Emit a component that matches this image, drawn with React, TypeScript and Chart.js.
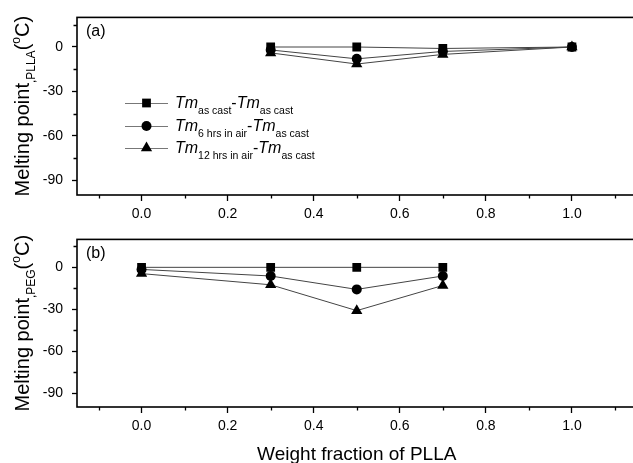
import React, { useEffect, useRef } from "react";
import { Chart, registerables } from "chart.js";

Chart.register(...registerables);

// ---- Data ----
const xPLLA = [0.3, 0.5, 0.7, 1.0];
const pllaAsCast = [0, 0, -1, 0];
const pllaSixHrs = [-2, -8, -3, 0];
const pllaTwelveHrs = [-4, -11.5, -5, 0];

const xPEG = [0.0, 0.3, 0.5, 0.7];
const pegAsCast = [0, 0, 0, 0];
const pegSixHrs = [-1.5, -6.2, -15.8, -6.2];
const pegTwelveHrs = [-4.5, -12.5, -31, -13];

const xMajorTicks = [0.0, 0.2, 0.4, 0.6, 0.8, 1.0];
const xMinorTicks = [-0.1, 0.1, 0.3, 0.5, 0.7, 0.9, 1.1];
const yMajorTicks = [-90, -60, -30, 0];
const yMinorTicks = [-75, -45, -15, 15];

const seriesNames = [
  { main: "Tm", sub1: "as cast", sub2: "as cast" },
  { main: "Tm", sub1: "6 hrs in air", sub2: "as cast" },
  { main: "Tm", sub1: "12 hrs in air", sub2: "as cast" },
];
const pointStyles = ["rect", "circle", "triangle"];
const pointSizes = [6.2, 5, 6.5];

const FONT = "'Liberation Sans', Arial, sans-serif";

function makeDatasets(xs: number[], series: number[][]) {
  return series.map((vals, i) => ({
    label: seriesNames[i].main + seriesNames[i].sub1,
    data: xs.map((x, j) => ({ x, y: vals[j] })),
    borderColor: "#444",
    borderWidth: 1,
    backgroundColor: "#000",
    pointBackgroundColor: "#000",
    pointBorderColor: "#000",
    pointBorderWidth: 0,
    pointStyle: pointStyles[i],
    pointRadius: pointSizes[i],
    showLine: true,
    fill: false,
    tension: 0,
  }));
}

function framePlugin(panelLabel: string, yTitleSub: string, showLegend: boolean) {
  return {
    id: "frame_" + panelLabel,
    afterDraw(chart: any) {
      const ctx = chart.ctx;
      const a = chart.chartArea;
      const xs = chart.scales.x;
      const ys = chart.scales.y;
      ctx.save();
      // frame
      ctx.strokeStyle = "#000";
      ctx.lineWidth = 1.6;
      ctx.strokeRect(a.left, a.top, a.right - a.left, a.bottom - a.top);
      // minor ticks
      ctx.lineWidth = 1.3;
      ctx.beginPath();
      xMinorTicks.forEach((v) => {
        const px = Math.round(xs.getPixelForValue(v)) + 0.5;
        ctx.moveTo(px, a.bottom);
        ctx.lineTo(px, a.bottom + 3.5);
      });
      yMinorTicks.forEach((v) => {
        const py = Math.round(ys.getPixelForValue(v)) + 0.5;
        ctx.moveTo(a.left, py);
        ctx.lineTo(a.left - 3.5, py);
      });
      ctx.stroke();

      // panel label
      ctx.fillStyle = "#000";
      ctx.font = `16px ${FONT}`;
      ctx.textBaseline = "alphabetic";
      ctx.textAlign = "left";
      ctx.fillText(panelLabel, a.left + 9, a.top + 19);

      // y title (rotated, with subscript and superscript)
      const segs = [
        { t: "Melting point", size: 20, dy: 0 },
        { t: yTitleSub, size: 12, dy: 6 },
        { t: "(", size: 20, dy: 0 },
        { t: "o", size: 12, dy: -9 },
        { t: "C)", size: 20, dy: 0 },
      ];
      let total = 0;
      segs.forEach((s) => {
        ctx.font = `${s.size}px ${FONT}`;
        total += ctx.measureText(s.t).width;
      });
      const cy = (a.top + a.bottom) / 2;
      ctx.save();
      ctx.translate(29, cy);
      ctx.rotate(-Math.PI / 2);
      let cx = -total / 2;
      segs.forEach((s) => {
        ctx.font = `${s.size}px ${FONT}`;
        ctx.fillText(s.t, cx, s.dy);
        cx += ctx.measureText(s.t).width;
      });
      ctx.restore();

      // legend
      if (showLegend) {
        const rows = [103, 126, 148];
        const lineX0 = 125;
        const lineX1 = 168;
        const markX = 146.5;
        rows.forEach((ry, i) => {
          ctx.strokeStyle = "#777";
          ctx.lineWidth = 1.2;
          ctx.beginPath();
          ctx.moveTo(lineX0, ry + 0.5);
          ctx.lineTo(lineX1, ry + 0.5);
          ctx.stroke();
          ctx.fillStyle = "#000";
          const r = pointSizes[i];
          ctx.beginPath();
          if (pointStyles[i] === "rect") {
            const s = r * Math.SQRT1_2;
            ctx.rect(markX - s, ry - s, 2 * s, 2 * s);
          } else if (pointStyles[i] === "circle") {
            ctx.arc(markX, ry, r, 0, Math.PI * 2);
          } else {
            const w = (r * Math.sqrt(3)) / 2;
            ctx.moveTo(markX, ry - r);
            ctx.lineTo(markX + w, ry + r / 2);
            ctx.lineTo(markX - w, ry + r / 2);
            ctx.closePath();
          }
          ctx.fill();

          // text
          const base = ry + 5;
          let tx = 175;
          const n = seriesNames[i];
          const parts = [
            { t: n.main, font: `italic 16px ${FONT}`, dy: 0 },
            { t: n.sub1, font: `10.5px ${FONT}`, dy: 6 },
            { t: "-", font: `16px ${FONT}`, dy: 0 },
            { t: n.main, font: `italic 16px ${FONT}`, dy: 0 },
            { t: n.sub2, font: `10.5px ${FONT}`, dy: 6 },
          ];
          parts.forEach((p) => {
            ctx.font = p.font;
            ctx.fillText(p.t, tx, base + p.dy);
            tx += ctx.measureText(p.t).width;
          });
        });
      }
      ctx.restore();
    },
  };
}

function makeConfig(
  xs: number[],
  series: number[][],
  panelLabel: string,
  yTitleSub: string,
  showLegend: boolean,
  padTop: number,
  xAxisHeight: number,
  showXTitle: boolean
): any {
  return {
    type: "scatter",
    data: { datasets: makeDatasets(xs, series) },
    options: {
      responsive: false,
      animation: false,
      devicePixelRatio: 1,
      layout: { padding: { top: padTop, right: 2, left: 0, bottom: 0 } },
      plugins: {
        legend: { display: false },
        tooltip: { enabled: false },
      },
      scales: {
        x: {
          type: "linear",
          min: -0.15,
          max: 1.15,
          afterBuildTicks: (s: any) => {
            s.ticks = xMajorTicks.map((v) => ({ value: v }));
          },
          afterFit: (s: any) => {
            s.height = xAxisHeight;
          },
          ticks: {
            color: "#000",
            font: { family: FONT, size: 14 },
            padding: 5,
            maxRotation: 0,
            autoSkip: false,
            callback: (v: any) => Number(v).toFixed(1),
          },
          grid: {
            display: true,
            drawOnChartArea: false,
            drawTicks: true,
            tickLength: 6,
            tickColor: "#000",
            tickWidth: 1.3,
          },
          border: { display: false },
          title: {
            display: showXTitle,
            text: "Weight fraction of PLLA",
            color: "#000",
            font: { family: FONT, size: 19 },
            padding: { top: 0, bottom: 0 },
          },
        },
        y: {
          type: "linear",
          min: -100,
          max: 20,
          afterBuildTicks: (s: any) => {
            s.ticks = yMajorTicks.map((v) => ({ value: v }));
          },
          afterFit: (s: any) => {
            s.width = 77;
          },
          ticks: {
            color: "#000",
            font: { family: FONT, size: 14 },
            padding: 9,
            callback: (v: any) => String(v),
          },
          grid: {
            display: true,
            drawOnChartArea: false,
            drawTicks: true,
            tickLength: 5,
            tickColor: "#000",
            tickWidth: 1.3,
          },
          border: { display: false },
        },
      },
    },
    plugins: [framePlugin(panelLabel, yTitleSub, showLegend)],
  };
}

export default function App() {
  const refA = useRef<HTMLCanvasElement | null>(null);
  const refB = useRef<HTMLCanvasElement | null>(null);

  useEffect(() => {
    if (!refA.current || !refB.current) return;
    const chartA = new Chart(
      refA.current,
      makeConfig(
        xPLLA,
        [pllaAsCast, pllaSixHrs, pllaTwelveHrs],
        "(a)",
        ",PLLA",
        true,
        12,
        27,
        false
      )
    );
    const chartB = new Chart(
      refB.current,
      makeConfig(
        xPEG,
        [pegAsCast, pegSixHrs, pegTwelveHrs],
        "(b)",
        ",PEG",
        false,
        1,
        59,
        true
      )
    );
    return () => {
      chartA.destroy();
      chartB.destroy();
    };
  }, []);

  return (
    <div
      style={{
        position: "absolute",
        left: 0,
        top: 0,
        width: 633,
        height: 463,
        overflow: "hidden",
        background: "#fff",
      }}
    >
      <canvas
        ref={refA}
        width={643}
        height={222}
        style={{ position: "absolute", left: 0, top: 0, width: 643, height: 222 }}
      />
      <canvas
        ref={refB}
        width={643}
        height={244}
        style={{ position: "absolute", left: 0, top: 222, width: 643, height: 244 }}
      />
    </div>
  );
}
